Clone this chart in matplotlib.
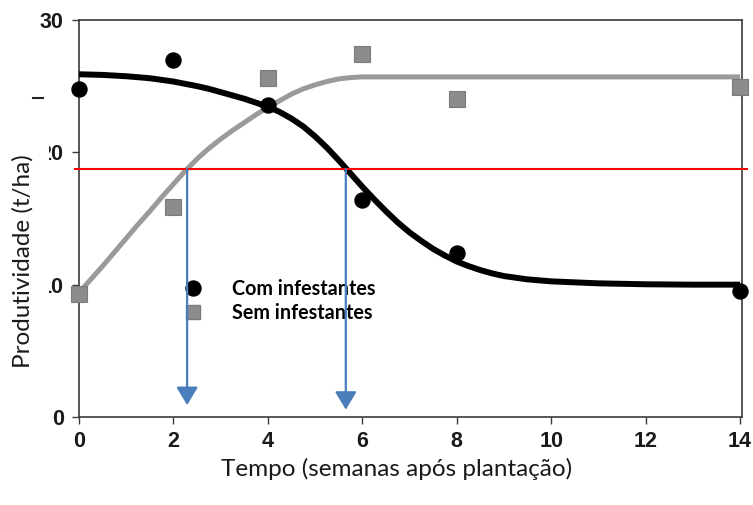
import matplotlib
matplotlib.use("Agg")
import matplotlib.pyplot as plt
from matplotlib.lines import Line2D
from matplotlib.patches import Rectangle

# ---- data ----
weeks = [0, 2, 4, 6, 8, 14]
com_infestantes = [24.8, 27.0, 23.6, 16.4, 12.4, 9.5]
sem_infestantes = [9.3, 15.9, 25.6, 27.4, 24.0, 24.9]

# fitted curves
curve_x_com = [0, 0.5, 1, 1.5, 2, 2.5, 2.75, 3, 3.25, 3.5, 3.75, 4, 4.25, 4.5,
               4.75, 5, 5.25, 5.5, 5.75, 6, 6.25, 6.5, 6.75, 7, 7.25, 7.5, 7.75,
               8, 8.25, 8.5, 8.75, 9, 9.5, 10, 11, 12, 13, 14]
curve_y_com = [25.9, 25.85, 25.75, 25.6, 25.35, 25.0, 24.8, 24.55, 24.3, 24.05,
               23.75, 23.45, 23.05, 22.55, 21.95, 21.2, 20.35, 19.4, 18.4, 17.4,
               16.45, 15.55, 14.7, 13.95, 13.3, 12.7, 12.2, 11.75, 11.4, 11.1,
               10.85, 10.65, 10.4, 10.25, 10.1, 10.03, 10.0, 10.0]
curve_x_sem = [0, 0.25, 0.5, 0.75, 1, 1.25, 1.5, 1.75, 2, 2.25, 2.5, 2.75, 3,
               3.25, 3.5, 3.75, 4, 4.25, 4.5, 4.75, 5, 5.25, 5.5, 5.75, 6, 8, 10,
               12, 14]
curve_y_sem = [9.4, 10.4, 11.4, 12.45, 13.5, 14.55, 15.55, 16.6, 17.6, 18.6,
               19.5, 20.3, 21.0, 21.65, 22.25, 22.85, 23.4, 23.9, 24.4, 24.8,
               25.1, 25.35, 25.55, 25.65, 25.7, 25.7, 25.7, 25.7, 25.7]

threshold = 18.75
arrow_x = [2.29, 5.65]
arrow_tip_y = [0.9, 0.55]

xticks = [0, 2, 4, 6, 8, 10, 12, 14]
yticks = [0, 10, 20, 30]
xlabel = "Tempo (semanas após plantação)"
ylabel = "Produtividade (t/ha)"
legend_labels = ["Com infestantes", "Sem infestantes"]

# ---- figure ----
W, H = 753, 505
fig = plt.figure(figsize=(W / 100, H / 100), dpi=100)
ax = fig.add_axes([79 / W, 1 - 417 / H, (742 - 79) / W, (417 - 20) / H])
ax.set_xlim(0, 14.04)
ax.set_ylim(0, 30)

axis_col = "#3a3a3a"
for s in ax.spines.values():
    s.set_color(axis_col)
    s.set_linewidth(1.2)

ax.set_xticks(xticks)
ax.set_yticks(yticks)
tick_font = dict(family="Liberation Sans", weight="bold", size=15.5)
ax.set_xticklabels([str(t) for t in xticks], fontdict=tick_font, color="#1a1a1a")
ax.set_yticklabels([str(t) for t in yticks], fontdict=tick_font, color="#1a1a1a")
ax.tick_params(axis="both", direction="out", length=5, width=1.0, color=axis_col)
ax.tick_params(axis="x", pad=5)
ax.tick_params(axis="y", pad=6)

# curves
ax.plot(curve_x_sem, curve_y_sem, color="#9a9a9a", lw=3.6, solid_capstyle="butt",
        solid_joinstyle="round", zorder=3, clip_on=False)
ax.plot(curve_x_com, curve_y_com, color="black", lw=4.3, solid_capstyle="butt",
        solid_joinstyle="round", zorder=4, clip_on=False)

# points
ax.plot(weeks, sem_infestantes, ls="none", marker="s", ms=11.5, mfc="#8c8c8c",
        mec="#7a7a7a", mew=0.8, zorder=5, clip_on=False)
ax.plot(weeks, com_infestantes, ls="none", marker="o", ms=10.8, mfc="black",
        mec="black", zorder=6, clip_on=False)

# threshold line
ax.plot([-0.08, 14.15], [threshold, threshold], color="red", lw=1.5, zorder=7,
        clip_on=False)

# arrows
for xa, ya in zip(arrow_x, arrow_tip_y):
    ax.annotate("", xy=(xa, ya), xytext=(xa, threshold),
                arrowprops=dict(arrowstyle="-|>,head_length=1.0,head_width=0.6",
                                mutation_scale=11, color="#4a7ebb", lw=1.6,
                                shrinkA=0, shrinkB=0),
                zorder=8)

# legend
handles = [Line2D([], [], ls="none", marker="o", ms=10.8, mfc="black", mec="black"),
           Line2D([], [], ls="none", marker="s", ms=10.5, mfc="#8c8c8c", mec="#7a7a7a")]
leg = ax.legend(handles, legend_labels, loc="upper left",
                bbox_to_anchor=(168 / W, 1 - 269 / H), bbox_transform=fig.transFigure,
                frameon=False, prop=dict(family="Lato", weight="bold", size=14.2),
                handletextpad=1.25, labelspacing=0.22, borderpad=0, handlelength=1.5)

# axis labels
fig.text(397 / W, 1 - 469 / H, xlabel, ha="center", va="center",
         family="Lato", size=17.5, color="#1a1a1a")
# white box from the pasted label that hides part of tick labels
fig.patches.append(Rectangle((0, 1 - 385 / H), 49 / W, 270 / H,
                             transform=fig.transFigure, facecolor="white",
                             edgecolor="none", zorder=2))
fig.text(23 / W, 1 - 261 / H, ylabel, ha="center", va="center", rotation=90,
         family="Lato", size=17.5, color="#1a1a1a", zorder=3)
# small stray mark on the scanned figure
fig.add_artist(Line2D([33 / W, 43 / W], [1 - 98 / H, 1 - 98 / H],
                      transform=fig.transFigure, color="#222222", lw=1.5, zorder=3))

fig.savefig("out.png", dpi=100)
